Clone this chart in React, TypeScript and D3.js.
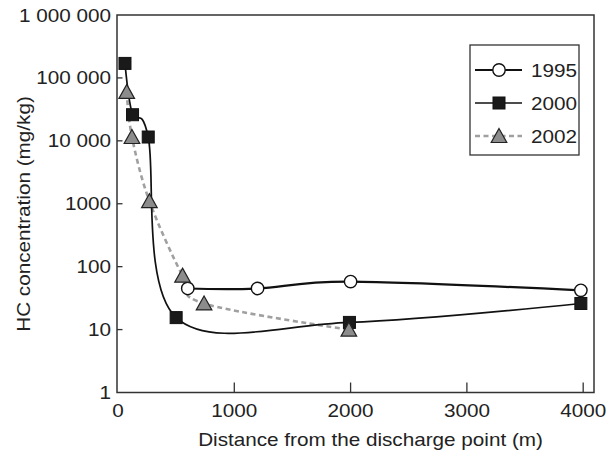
import React from "react";
import * as d3 from "d3";

const X_1995 = [600, 1200, 2000, 3980];
const Y_1995 = [45, 45, 58, 42];
const X_2000 = [60, 125, 260, 500, 1990, 3980];
const Y_2000 = [170000, 26000, 11500, 15.5, 13, 26];
const X_2002 = [75, 120, 270, 555, 740, 1985];
const Y_2002 = [60000, 11500, 1100, 72, 26, 10];

const X_TICKS = [0, 1000, 2000, 3000, 4000];
const X_TICK_LABELS = ["0", "1000", "2000", "3000", "4000"];
const Y_TICKS = [1, 10, 100, 1000, 10000, 100000, 1000000];
const Y_TICK_LABELS = ["1", "10", "100", "1000", "10 000", "100 000", "1 000 000"];
const SERIES_NAMES = ["1995", "2000", "2002"];
const X_TITLE = "Distance from the discharge point (m)";
const Y_TITLE = "HC concentration (mg/kg)";

const W = 607, H = 455;
const L = 117, R = 594, T = 15, B = 392.5;
const FONT = "'Liberation Sans', Arial, Helvetica, sans-serif";
const FS = 18;
const SX = 1.15;
const AXIS = "#333";

const x = d3.scaleLinear().domain([-8.6, 4093]).range([L, R]);
const y = d3.scaleLog().domain([1, 1000000]).range([B, T]);

const line = d3
  .line<[number, number]>()
  .x((d) => x(d[0]))
  .y((d) => y(d[1]))
  .curve(d3.curveCardinal.tension(0));

function zip(a: number[], b: number[]): [number, number][] {
  return a.map((v, i) => [v, b[i]]);
}

function Txt({ x: tx, y: ty, anchor = "start", rotate = 0, children, size = FS }: any) {
  return (
    <text
      transform={`translate(${tx},${ty}) rotate(${rotate}) scale(${SX},1)`}
      textAnchor={anchor}
      fontFamily={FONT}
      fontSize={size}
      fill="#222"
    >
      {children}
    </text>
  );
}

const tri = (cx: number, cy: number) =>
  `M${cx},${cy - 7.5} L${cx + 7.8},${cy + 6.5} L${cx - 7.8},${cy + 6.5} Z`;

function Circle({ cx, cy }: any) {
  return <circle cx={cx} cy={cy} r={6.2} fill="#fff" stroke="#111" strokeWidth={1.4} />;
}
function Square({ cx, cy }: any) {
  return <rect x={cx - 6} y={cy - 6} width={12} height={12} fill="#1a1a1a" stroke="#111" strokeWidth={1} />;
}
function Tri({ cx, cy }: any) {
  return <path d={tri(cx, cy)} fill="#8c8c8c" stroke="#222" strokeWidth={1.2} strokeLinejoin="miter" />;
}

export default function App() {
  const d1995 = zip(X_1995, Y_1995);
  const d2000 = zip(X_2000, Y_2000);
  const d2002 = zip(X_2002, Y_2002);
  const legY = [70, 103, 136];
  return (
    <svg width={W} height={H} style={{ position: "fixed", left: 0, top: 0, background: "#fff" }}>
      <rect x={0} y={0} width={W} height={H} fill="#fff" />
      {/* frame */}
      <rect x={L} y={T} width={R - L} height={B - T} fill="none" stroke={AXIS} strokeWidth={1.5} />
      {/* y ticks */}
      {Y_TICKS.map((v, i) => (
        <g key={"yt" + i}>
          {i > 0 && i < Y_TICKS.length - 1 && (
            <line x1={L} x2={L + 5.5} y1={y(v)} y2={y(v)} stroke={AXIS} strokeWidth={1.3} />
          )}
          <Txt x={111} y={y(v) + 6.5} anchor="end">
            {Y_TICK_LABELS[i]}
          </Txt>
        </g>
      ))}
      {/* x ticks */}
      {X_TICKS.map((v, i) => (
        <g key={"xt" + i}>
          {i > 0 && <line x1={x(v)} x2={x(v)} y1={B} y2={B - 10} stroke={AXIS} strokeWidth={1.3} />}
          <Txt x={x(v)} y={417} anchor="middle">
            {X_TICK_LABELS[i]}
          </Txt>
        </g>
      ))}
      <Txt x={(L + R) / 2 + 15} y={446} anchor="middle">
        {X_TITLE}
      </Txt>
      <Txt x={30} y={214} anchor="middle" rotate={-90}>
        {Y_TITLE}
      </Txt>
      {/* lines */}
      <path d={line(d2002) || ""} fill="none" stroke="#a0a0a0" strokeWidth={2.6} strokeDasharray="5,3.5" />
      <path d={line(d2000) || ""} fill="none" stroke="#111" strokeWidth={1.7} />
      <path d={line(d1995) || ""} fill="none" stroke="#111" strokeWidth={2.2} />
      {/* markers */}
      {d1995.map((d, i) => (
        <Circle key={"c" + i} cx={x(d[0])} cy={y(d[1])} />
      ))}
      {d2000.map((d, i) => (
        <Square key={"s" + i} cx={x(d[0])} cy={y(d[1])} />
      ))}
      {d2002.map((d, i) => (
        <Tri key={"t" + i} cx={x(d[0])} cy={y(d[1])} />
      ))}
      {/* legend */}
      <rect x={470} y={45} width={109} height={110} fill="#fff" stroke={AXIS} strokeWidth={1.3} />
      <line x1={475} x2={522} y1={legY[0]} y2={legY[0]} stroke="#111" strokeWidth={2.2} />
      <Circle cx={499} cy={legY[0]} />
      <line x1={475} x2={522} y1={legY[1]} y2={legY[1]} stroke="#111" strokeWidth={1.7} />
      <Square cx={499} cy={legY[1]} />
      <line x1={475} x2={522} y1={legY[2]} y2={legY[2]} stroke="#a0a0a0" strokeWidth={2.6} strokeDasharray="5,3.5" />
      <Tri cx={499} cy={legY[2]} />
      {SERIES_NAMES.map((n, i) => (
        <Txt key={"lg" + i} x={531} y={legY[i] + 6.5}>
          {n}
        </Txt>
      ))}
    </svg>
  );
}
